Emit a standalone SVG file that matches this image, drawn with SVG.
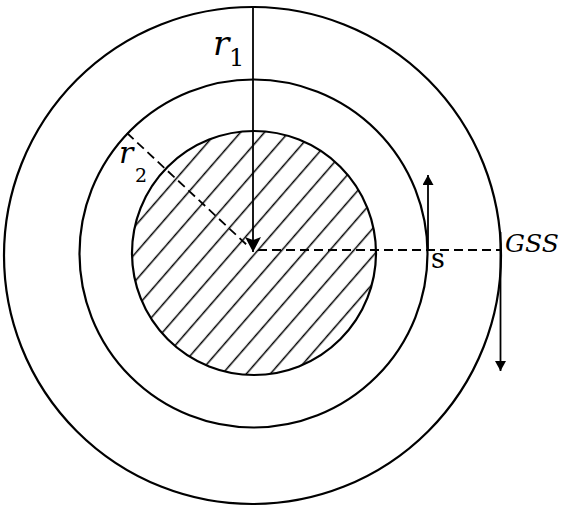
<svg xmlns="http://www.w3.org/2000/svg" width="563" height="514" viewBox="0 0 563 514">
<style>
.c{fill:none;stroke:#000;stroke-width:2.2}
.ln{stroke:#000;stroke-width:1.8;fill:none}
.d{stroke:#000;stroke-width:1.8;fill:none;stroke-dasharray:9 5}
</style>
<defs>
<pattern id="hatch" patternUnits="userSpaceOnUse" width="18.1" height="20" patternTransform="rotate(41)">
<line x1="14.9" y1="-5" x2="14.9" y2="25" stroke="#000" stroke-width="1.5"/>
</pattern>
<marker id="ah" markerWidth="16" markerHeight="16" refX="15" refY="8" orient="auto" markerUnits="userSpaceOnUse">
<path d="M0,0 L15,8 L0,16 L3,8 Z" fill="#000"/>
</marker>
<marker id="ahs" markerWidth="11" markerHeight="11" refX="10" refY="5.5" orient="auto" markerUnits="userSpaceOnUse">
<path d="M0,0 L10,5.5 L0,11 Z" fill="#000"/>
</marker>
</defs>
<g id="outer"><circle class="c" cx="252.5" cy="255.5" r="248.5"/></g>
<g id="middle"><circle class="c" cx="253.5" cy="253.5" r="174"/></g>
<g id="inner"><circle cx="254" cy="253" r="122" fill="url(#hatch)" stroke="#000" stroke-width="2.2"/></g>
<g id="connectors">
<line class="ln" x1="253" y1="6" x2="253" y2="252" marker-end="url(#ah)"/>
<line class="d" x1="127" y1="133" x2="248" y2="246"/>
<line class="d" x1="258" y1="250" x2="500" y2="250"/>
<line class="ln" x1="428" y1="250" x2="428" y2="175" marker-end="url(#ahs)"/>
<line class="ln" x1="500.5" y1="232" x2="500.5" y2="371" marker-end="url(#ahs)"/>
</g>
<g id="labels" font-family="'DejaVu Serif', serif" fill="#000">
<text x="213" y="55" font-size="34" font-style="italic">r</text>
<text x="229" y="66" font-size="24">1</text>
<text x="119" y="163" font-size="30" font-style="italic">r</text>
<text x="135" y="182" font-size="19">2</text>
<text x="431" y="268" font-size="27">s</text>
<text x="505" y="252" font-size="25" font-style="italic">GSS</text>
</g>
</svg>
